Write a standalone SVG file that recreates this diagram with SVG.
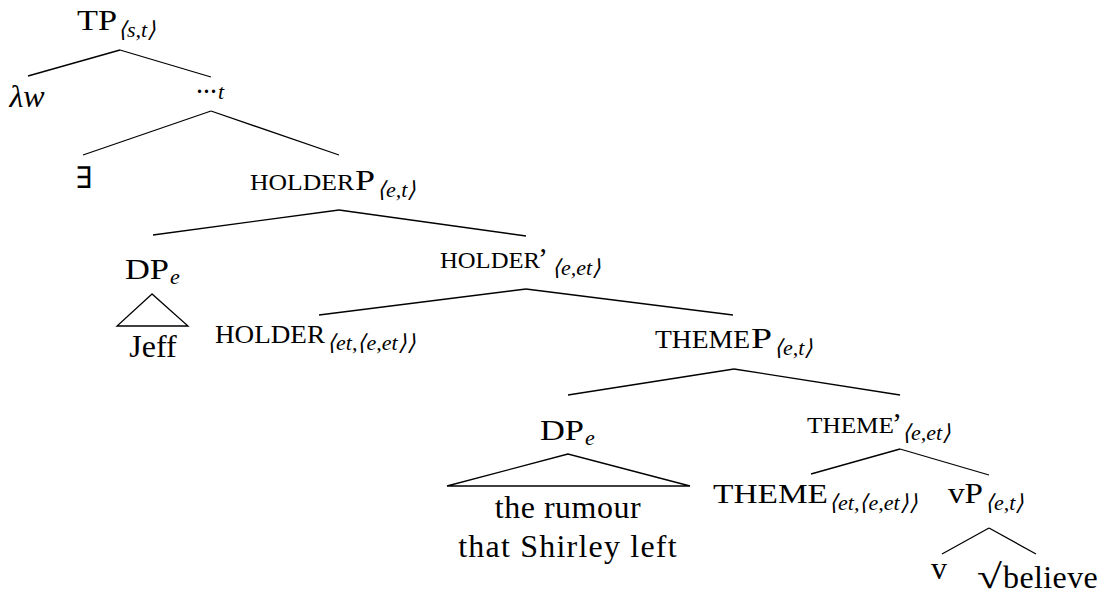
<svg xmlns="http://www.w3.org/2000/svg" width="1104" height="598" viewBox="0 0 1104 598">
<style>
text{font-family:'Liberation Serif',serif}
.m{font-size:30px}
.lc{font-size:32px}
.sub{font-size:22px;font-style:italic}
.it{font-style:italic}
.edges line,.edges polygon{stroke:#000;stroke-width:1.3;fill:none}
</style>
<rect width="1104" height="598" fill="#fff"/>
<g class="edges" id="connectors">
<line x1="120" y1="50" x2="28" y2="76"/>
<line x1="120" y1="50" x2="211" y2="77"/>
<line x1="211" y1="111" x2="83" y2="155"/>
<line x1="211" y1="111" x2="339" y2="155"/>
<line x1="339" y1="210" x2="153" y2="235"/>
<line x1="339" y1="210" x2="526" y2="236"/>
<polygon points="152,294 117,326 188,326"/>
<line x1="526" y1="289" x2="319" y2="315"/>
<line x1="526" y1="289" x2="733" y2="315"/>
<line x1="734" y1="369" x2="568" y2="395"/>
<line x1="734" y1="369" x2="900" y2="395"/>
<polygon points="568,454 447,486 690,486"/>
<line x1="900" y1="449" x2="811" y2="474"/>
<line x1="900" y1="449" x2="989" y2="475"/>
<line x1="989" y1="528" x2="942" y2="554"/>
<line x1="989" y1="528" x2="1036" y2="554"/>
</g>
<g id="nodes" fill="#000">
<g id="n-tp"><text font-family="Liberation Serif" y="30"><tspan class="m" x="77" textLength="40" lengthAdjust="spacingAndGlyphs">TP</tspan><tspan class="sub" x="118" y="37">⟨s,t⟩</tspan></text></g>
<g id="n-lambda"><text font-family="Liberation Serif" class="lc it" x="27" y="107" text-anchor="middle">λw</text></g>
<g id="n-dots"><text font-family="Liberation Serif" y="93"><tspan class="m" x="196" textLength="21" lengthAdjust="spacingAndGlyphs">...</tspan><tspan class="sub" x="218" y="99">t</tspan></text></g>
<g id="n-exists"><text font-family="Liberation Serif" class="m" x="75" y="188" textLength="17" lengthAdjust="spacingAndGlyphs">∃</text></g>
<g id="n-holderp"><text font-family="Liberation Serif" y="190"><tspan font-size="24" x="250" textLength="104" lengthAdjust="spacingAndGlyphs">HOLDER</tspan><tspan class="m" x="355" textLength="20" lengthAdjust="spacingAndGlyphs">P</tspan><tspan class="sub" x="377" y="197">⟨e,t⟩</tspan></text></g>
<g id="n-dp1"><text font-family="Liberation Serif" y="279"><tspan class="m" x="125" textLength="44" lengthAdjust="spacingAndGlyphs">DP</tspan><tspan class="sub" x="170" y="284">e</tspan></text></g>
<g id="n-jeff"><text font-family="Liberation Serif" class="lc" x="153" y="357" text-anchor="middle">Jeff</text></g>
<g id="n-holderbar"><text font-family="Liberation Serif" y="268"><tspan font-size="23" x="440" textLength="100" lengthAdjust="spacingAndGlyphs">HOLDER</tspan><tspan class="m" x="538">’</tspan><tspan class="sub" x="552" y="275">⟨e,et⟩</tspan></text></g>
<g id="n-holder"><text font-family="Liberation Serif" y="343"><tspan font-size="25" x="215" textLength="110" lengthAdjust="spacingAndGlyphs">HOLDER</tspan><tspan class="sub" x="327" y="350">⟨et,⟨e,et⟩⟩</tspan></text></g>
<g id="n-themep"><text font-family="Liberation Serif" y="348"><tspan font-size="25" x="655" textLength="95" lengthAdjust="spacingAndGlyphs">THEME</tspan><tspan class="m" x="751" textLength="21" lengthAdjust="spacingAndGlyphs">P</tspan><tspan class="sub" x="774" y="355">⟨e,t⟩</tspan></text></g>
<g id="n-dp2"><text font-family="Liberation Serif" y="440"><tspan class="m" x="540" textLength="44" lengthAdjust="spacingAndGlyphs">DP</tspan><tspan class="sub" x="585" y="445">e</tspan></text></g>
<g id="n-rumour"><text font-family="Liberation Serif" class="lc" y="518" text-anchor="middle" letter-spacing="0.5"><tspan x="568">the rumour</tspan><tspan x="568" y="557" letter-spacing="1.2">that Shirley left</tspan></text></g>
<g id="n-themebar"><text font-family="Liberation Serif" y="433"><tspan font-size="23" x="807" textLength="87" lengthAdjust="spacingAndGlyphs">THEME</tspan><tspan class="m" x="892">’</tspan><tspan class="sub" x="902" y="440">⟨e,et⟩</tspan></text></g>
<g id="n-theme"><text font-family="Liberation Serif" y="503"><tspan font-size="27" x="713" textLength="115" lengthAdjust="spacingAndGlyphs">THEME</tspan><tspan class="sub" x="829" y="510">⟨et,⟨e,et⟩⟩</tspan></text></g>
<g id="n-vp"><text font-family="Liberation Serif" y="503"><tspan class="m" x="948" textLength="35" lengthAdjust="spacingAndGlyphs">vP</tspan><tspan class="sub" x="985" y="510">⟨e,t⟩</tspan></text></g>
<g id="n-v"><text font-family="Liberation Serif" class="lc" x="939" y="579" text-anchor="middle">v</text></g>
<g id="n-believe"><text font-family="Liberation Serif" y="588"><tspan font-size="34" x="977" textLength="25" lengthAdjust="spacingAndGlyphs">√</tspan><tspan class="lc" x="1003" letter-spacing="0.4">believe</tspan></text></g>
</g>
</svg>
